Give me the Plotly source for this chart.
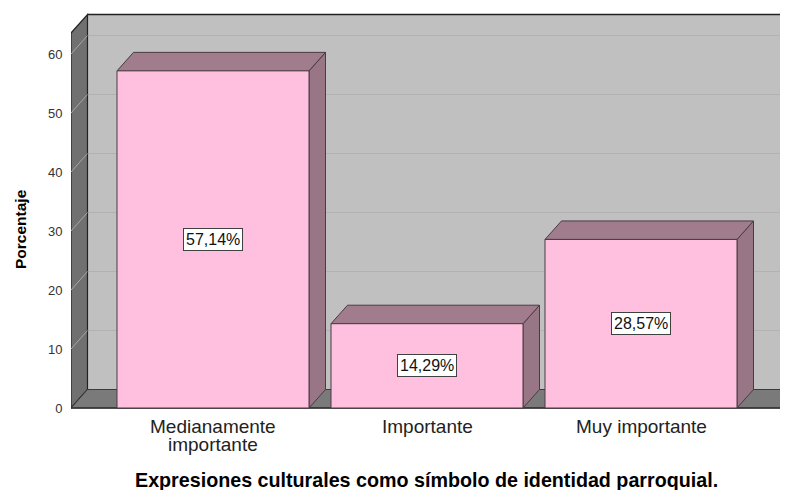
import plotly.graph_objects as go

# ---- data ----
categories = ["Medianamente<br>importante", "Importante", "Muy importante"]
percentages = [57.14, 14.29, 28.57]
y_ticks = [0, 10, 20, 30, 40, 50, 60]
x_title = "Expresiones culturales como símbolo de identidad parroquial."
y_title = "Porcentaje"

# ---- geometry ----
FONT = "Liberation Sans, Arial, sans-serif"
OFF = 8                          # page body margin of the browser
px_per_unit_y = 5.9
px_per_cat = 214.0
DX = 16.5 / px_per_cat           # depth offset in x (category units)
DY = 18.5 / px_per_unit_y        # depth offset in y (percent units)
HW = 96.0 / px_per_cat           # half bar width
X_LEFT = -142.0 / px_per_cat     # front wall position
X_RIGHT = X_LEFT + (784 - 71) / px_per_cat
WALL_TOP = 63.56

W, H = 788, 490
plot_left, plot_top, plot_bottom = 71 - OFF, 10 - OFF, 412 - OFF
plot_w, plot_h = W - plot_left, plot_bottom - plot_top
y_lo = -(412 - 408) / px_per_unit_y
y_hi = (408 - 10) / px_per_unit_y
x_hi = X_LEFT + plot_w / px_per_cat


def py(screen_y):
    return (plot_bottom - (screen_y - OFF)) / plot_h


def pxp(screen_x):
    return ((screen_x - OFF) - plot_left) / plot_w


def poly(pts):
    return "M " + " L ".join(f"{x},{y}" for x, y in pts) + " Z"


shapes = []
# back wall
shapes.append(dict(type="path", path=poly([(X_LEFT + DX, DY), (X_LEFT + DX, WALL_TOP + DY),
                                            (X_RIGHT + 2 * DX, WALL_TOP + DY), (X_RIGHT + 2 * DX, DY)]),
                   fillcolor="#C0C0C0", line=dict(width=0)))
for t in y_ticks[1:]:
    shapes.append(dict(type="line", x0=X_LEFT + DX, x1=X_RIGHT + 2 * DX, y0=t + DY, y1=t + DY,
                       line=dict(color="#B2B2B2", width=1.2)))
shapes.append(dict(type="line", x0=X_LEFT + DX, x1=X_RIGHT + 2 * DX, y0=WALL_TOP + DY, y1=WALL_TOP + DY,
                   line=dict(color="#222222", width=1.5)))
# left wall
shapes.append(dict(type="path", path=poly([(X_LEFT, 0), (X_LEFT, WALL_TOP), (X_LEFT + DX, WALL_TOP + DY),
                                            (X_LEFT + DX, DY)]),
                   fillcolor="#707070", line=dict(color="#222222", width=1.2)))
for t in y_ticks[1:]:
    shapes.append(dict(type="line", x0=X_LEFT, x1=X_LEFT + DX, y0=t, y1=t + DY,
                       line=dict(color="#A8A8A8", width=1)))
# floor
shapes.append(dict(type="path", path=poly([(X_LEFT, 0), (X_LEFT + DX, DY), (X_RIGHT + DX, DY), (X_RIGHT, 0)]),
                   fillcolor="#7A7A7A", line=dict(color="#3A3A3A", width=1)))
shapes.append(dict(type="line", x0=X_LEFT, x1=X_RIGHT, y0=0, y1=0, line=dict(color="#333333", width=1.5)))

annotations = []
# bars
for i, v in enumerate(percentages):
    l, r = i - HW, i + HW
    shapes.append(dict(type="path", path=poly([(r, 0), (r + DX, DY), (r + DX, v + DY), (r, v)]),
                       fillcolor="#987686", line=dict(color="#4A3A42", width=1)))
    shapes.append(dict(type="path", path=poly([(l, v), (l + DX, v + DY), (r + DX, v + DY), (r, v)]),
                       fillcolor="#A07C8C", line=dict(color="#4A3A42", width=1)))
    shapes.append(dict(type="path", path=poly([(l, 0), (l, v), (r, v), (r, 0)]),
                       fillcolor="#FFC0E0", line=dict(color="#4A3A42", width=1)))
    annotations.append(dict(x=i, y=v / 2, xref="x", yref="y",
                            text=f"{v:.2f}".replace(".", ",") + "%", showarrow=False,
                            font=dict(family=FONT, size=16, color="#111111"),
                            bgcolor="white", bordercolor="#404040", borderwidth=1, borderpad=2))

# category labels (one annotation per line to keep SPSS-like tight line spacing)
for i, cat in enumerate(categories):
    for j, line in enumerate(cat.split("<br>")):
        annotations.append(dict(x=i, y=py(426 + 18 * j), xref="x", yref="paper", text=line,
                                showarrow=False, xanchor="center", yanchor="middle",
                                font=dict(family=FONT, size=19, color="#222222")))

annotations.append(dict(x=pxp(426), y=py(480), xref="paper", yref="paper", text=f"<b>{x_title}</b>",
                        showarrow=False, xanchor="center", yanchor="middle",
                        font=dict(family=FONT, size=19.7, color="black")))
annotations.append(dict(x=pxp(20), y=py(229), xref="paper", yref="paper", text=f"<b>{y_title}</b>",
                        showarrow=False, textangle=-90, xanchor="center", yanchor="middle",
                        font=dict(family=FONT, size=15.5, color="black")))

fig = go.Figure()
fig.add_trace(go.Scatter(x=list(range(len(categories))), y=[0] * len(categories), mode="markers",
                         marker=dict(opacity=0), hoverinfo="skip", showlegend=False))
fig.update_layout(
    width=W, height=H, margin=dict(l=plot_left, r=0, t=plot_top, b=H - plot_bottom),
    paper_bgcolor="white", plot_bgcolor="white",
    shapes=shapes, annotations=annotations, showlegend=False,
    xaxis=dict(range=[X_LEFT, x_hi], showticklabels=False, showgrid=False, zeroline=False,
               showline=False, ticks=""),
    yaxis=dict(range=[y_lo, y_hi], tickvals=y_ticks, showgrid=False, zeroline=False, showline=False,
               ticks="outside", ticklen=5, tickcolor="rgba(0,0,0,0)",
               tickfont=dict(family=FONT, size=13, color="#333333")),
)
fig.write_html("out.html")
